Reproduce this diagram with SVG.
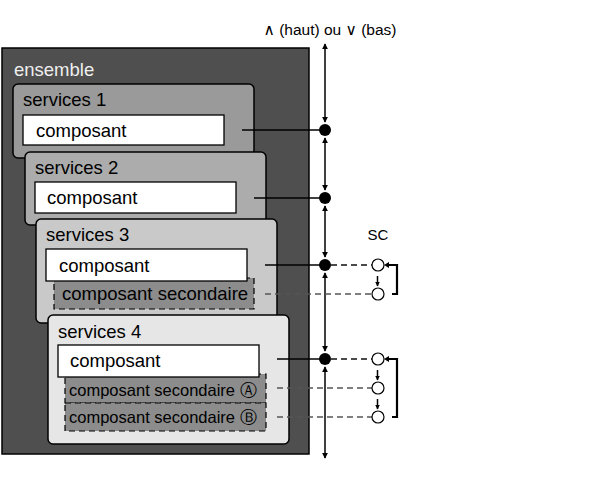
<svg xmlns="http://www.w3.org/2000/svg" width="609" height="481" viewBox="0 0 609 481">
<style>
text{font-family:"Liberation Sans",Arial,"DejaVu Sans",sans-serif;fill:#000}
.lbl{font-size:18.5px}
.svc{stroke:#000;stroke-width:1.5}
.comp{fill:#fff;stroke:#000;stroke-width:1.3}
.sec{fill:#8c8c8c;stroke:#000;stroke-width:1.2;stroke-dasharray:6,4}
.ax{stroke:#000;stroke-width:1.5;fill:none;marker-start:url(#ah);marker-end:url(#ah)}
.solid{stroke:#000;stroke-width:1.3}
.dsh{stroke:#111;stroke-width:1.3;stroke-dasharray:6,4}
.dsh2{stroke:#555;stroke-width:1.3;stroke-dasharray:6,4}
.dot{fill:#000}
.oc{fill:#fff;stroke:#000;stroke-width:1.2}
.br{fill:none;stroke:#000;stroke-width:2.2}
.sa{stroke:#000;stroke-width:1.5;marker-end:url(#sh)}
</style>
<defs>
<marker id="ah" viewBox="0 0 8 8" refX="7" refY="4" markerWidth="4" markerHeight="4" orient="auto-start-reverse" markerUnits="strokeWidth">
<path d="M0,0 L8,4 L0,8 z" fill="#000"/>
</marker>
<marker id="sh" viewBox="0 0 8 8" refX="7" refY="4" markerWidth="3" markerHeight="3" orient="auto" markerUnits="strokeWidth">
<path d="M0,0 L8,4 L0,8 z" fill="#000"/>
</marker>
</defs>

<g id="ensemble">
<rect x="2" y="48" width="307" height="406" fill="#4f4f4f" stroke="#000" stroke-width="1.5"/>
<text class="lbl" x="14" y="76" style="fill:#eee">ensemble</text>
</g>

<g id="services1">
<rect class="svc" x="13" y="84" width="241" height="74" rx="5" fill="#9a9a9a"/>
<text class="lbl" x="23" y="106">services 1</text>
<rect class="comp" x="23" y="115" width="201" height="30"/>
<text class="lbl" x="36" y="137">composant</text>
</g>

<g id="services2">
<rect class="svc" x="25" y="152" width="241" height="73" rx="5" fill="#acacac"/>
<text class="lbl" x="35" y="174">services 2</text>
<rect class="comp" x="35" y="182" width="201" height="31"/>
<text class="lbl" x="47" y="204">composant</text>
</g>

<g id="services3">
<rect class="svc" x="36" y="219" width="241" height="104" rx="5" fill="#c9c9c9"/>
<text class="lbl" x="46" y="241">services 3</text>
<rect class="sec" x="54" y="278" width="200" height="31"/>
<text class="lbl" x="62" y="300">composant secondaire</text>
<rect class="comp" x="46" y="249" width="201" height="32"/>
<text class="lbl" x="59" y="272">composant</text>
</g>

<g id="services4">
<rect class="svc" x="48" y="315" width="241" height="129" rx="5" fill="#e6e6e6"/>
<text class="lbl" x="58" y="338">services 4</text>
<rect class="sec" x="65" y="374" width="201" height="29"/>
<rect class="sec" x="65" y="403" width="201" height="28"/>
<text x="69" y="396" font-size="16.5">composant secondaire Ⓐ</text>
<text x="69" y="423" font-size="16.5">composant secondaire Ⓑ</text>
<rect class="comp" x="58" y="345" width="201" height="32"/>
<text class="lbl" x="70" y="367">composant</text>
</g>

<g id="connectors">
<line class="ax" x1="325" y1="44" x2="325" y2="122"/>
<line class="ax" x1="325" y1="138" x2="325" y2="190"/>
<line class="ax" x1="325" y1="206" x2="325" y2="257"/>
<line class="ax" x1="325" y1="273" x2="325" y2="351"/>
<line class="ax" x1="325" y1="367" x2="325" y2="458"/>

<line class="solid" x1="242" y1="130" x2="325" y2="130"/>
<line class="solid" x1="254" y1="198" x2="325" y2="198"/>
<line class="solid" x1="265" y1="265" x2="325" y2="265"/>
<line class="solid" x1="277" y1="359" x2="325" y2="359"/>

<line class="dsh" x1="331" y1="265" x2="372" y2="265"/>
<line class="dsh2" x1="265" y1="294" x2="372" y2="294"/>
<line class="dsh" x1="331" y1="359" x2="372" y2="359"/>
<line class="dsh2" x1="277" y1="388" x2="372" y2="388"/>
<line class="dsh2" x1="277" y1="417" x2="372" y2="417"/>

<circle class="dot" cx="325" cy="130" r="6"/>
<circle class="dot" cx="325" cy="198" r="6"/>
<circle class="dot" cx="325" cy="265" r="6"/>
<circle class="dot" cx="325" cy="359" r="6"/>

<circle class="oc" cx="378" cy="265" r="6"/>
<circle class="oc" cx="378" cy="294" r="6"/>
<circle class="oc" cx="378" cy="359" r="6"/>
<circle class="oc" cx="378" cy="388" r="6"/>
<circle class="oc" cx="378" cy="417" r="6"/>

<line class="sa" x1="377.5" y1="276" x2="377.5" y2="286"/>
<line class="sa" x1="377.5" y1="370" x2="377.5" y2="380"/>
<line class="sa" x1="377.5" y1="399" x2="377.5" y2="409"/>

<path class="br" d="M392,294 H397 V265 H388"/>
<path d="M384,265 L389,262 L389,268 z" fill="#000"/>
<path class="br" d="M392,417 H397 V359 H388"/>
<path d="M384,359 L389,356 L389,362 z" fill="#000"/>
</g>

<text x="330" y="35" font-size="15.5" text-anchor="middle">∧ (haut) ou ∨ (bas)</text>
<text x="378" y="240" font-size="15" text-anchor="middle">SC</text>
</svg>
